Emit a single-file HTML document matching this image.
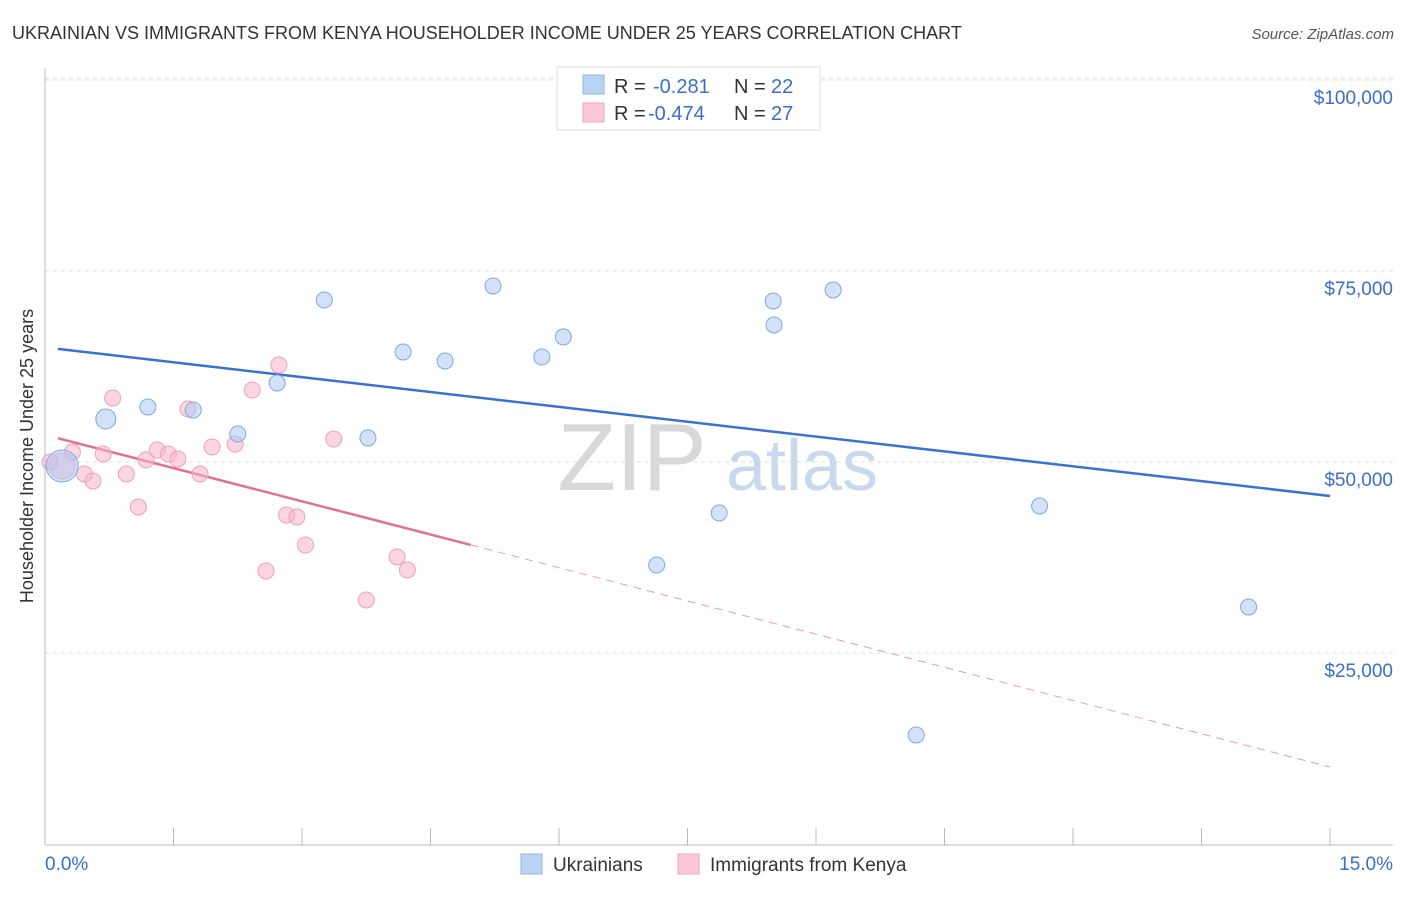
<!DOCTYPE html>
<html><head><meta charset="utf-8"><style>
body{margin:0;background:#fff;font-family:"Liberation Sans",sans-serif}
svg text{font-family:"Liberation Sans",sans-serif}
</style></head><body>
<svg id="chart" width="1406" height="892" xmlns="http://www.w3.org/2000/svg">
<text x="12" y="39" font-size="18" fill="#333">UKRAINIAN VS IMMIGRANTS FROM KENYA HOUSEHOLDER INCOME UNDER 25 YEARS CORRELATION CHART</text>
<text x="1394" y="39" font-size="15" fill="#555" text-anchor="end" font-style="italic">Source: ZipAtlas.com</text>
<g><text x="632" y="490" font-size="96" fill="#d8d8d8" text-anchor="middle" font-family="Liberation Serif,serif">ZIP</text><text x="802" y="490" font-size="72" fill="#c7d8ef" text-anchor="middle">atlas</text></g>
<g id="grid"></g><g id="axes"></g><g id="trends"></g><g id="points"></g>
<text transform="translate(33,456) rotate(-90)" font-size="18" fill="#333" text-anchor="middle">Householder Income Under 25 years</text>
<g>
<rect x="557" y="67" width="263" height="63" fill="#fff" stroke="#ddd"/>
<rect x="583" y="75" width="21" height="19" fill="#b9d3f5" stroke="#8fb4e8"/>
<rect x="583" y="103" width="21" height="19" fill="#fbc8d7" stroke="#f0a3ba"/>
<text x="614" y="93" font-size="20" fill="#333">R = </text><text x="653" y="93" font-size="20" fill="#3a6fc9">-0.281</text>
<text x="734" y="93" font-size="20" fill="#333">N = </text><text x="771" y="93" font-size="20" fill="#3a6fc9">22</text>
<text x="614" y="120" font-size="20" fill="#333">R = </text><text x="648" y="120" font-size="20" fill="#3a6fc9">-0.474</text>
<text x="734" y="120" font-size="20" fill="#333">N = </text><text x="771" y="120" font-size="20" fill="#3a6fc9">27</text>
</g>
<g>
<rect x="521" y="854" width="21" height="20" fill="#b9d3f5" stroke="#8fb4e8"/><text x="553" y="871" font-size="19" fill="#333">Ukrainians</text>
<rect x="678" y="854" width="21" height="20" fill="#fbc8d7" stroke="#f0a3ba"/><text x="710" y="871" font-size="19" fill="#333">Immigrants from Kenya</text>
</g>
</svg>
<script>
const yTicks=[25000,50000,75000,100000];
const yTickLabels=["$25,000","$50,000","$75,000","$100,000"];
const xTickLabels=["0.0%","15.0%"];
const blueX=[0.20,0.71,1.20,1.73,2.25,2.71,3.26,3.77,4.18,4.67,5.23,5.80,6.05,6.95,7.14,7.87,8.50,8.51,9.20,11.61,14.05,10.17];
const blueY=[49480,55630,57200,56810,53670,60340,71210,53150,64400,63220,73040,63750,66370,95030,36520,43330,71080,67940,72520,44240,31020,14270];
const pinkX=[0.20,0.06,0.32,0.46,0.56,0.68,0.79,0.95,1.09,1.18,1.31,1.44,1.55,1.67,1.81,1.95,2.22,2.42,2.58,2.73,2.82,2.94,3.04,3.37,3.75,4.11,4.23];
const pinkY=[49480,50000,51310,48430,47520,51050,58380,48430,44110,50270,51570,51050,50400,56940,48430,51970,52360,59430,35740,62700,43070,42800,39140,53010,31940,37570,35870];
const blueTrend=[64800,45550];
const pinkTrend=[53550,10080];
const pinkSolidEnd=4.97;
const NS="http://www.w3.org/2000/svg";
const xs=v=>45+v/15*1285, ys=v=>844-v*191/25000;
function mk(p,t,a){const e=document.createElementNS(NS,t);for(const k in a)e.setAttribute(k,a[k]);document.getElementById(p).appendChild(e);return e;}
yTicks.forEach((t,i)=>{
 const l=mk('grid','line',{x1:45,x2:1393,y1:ys(t),y2:ys(t),stroke:'#ddd','stroke-dasharray':'4,4'});
 
 
 const tx=mk('grid','text',{x:1393,y:ys(t)+24,'font-size':19,fill:'#3a6fc9','text-anchor':'end'});tx.textContent=yTickLabels[i];
 
 
});
mk('grid','line',{x1:45,x2:1393,y1:ys(100000)-2,y2:ys(100000)-2,stroke:'#ddd','stroke-dasharray':'4,4'});
mk('axes','line',{x1:45,x2:45,y1:68,y2:845,stroke:'#bbb'});
mk('axes','line',{x1:45,x2:1393,y1:845,y2:845,stroke:'#bbb'});
for(let i=0;i<=10;i++){mk('axes','line',{x1:xs(i*1.5),x2:xs(i*1.5),y1:828,y2:845,stroke:'#bbb'});}
const x0=mk('axes','text',{x:45,y:870,'font-size':19,fill:'#3a6fc9'});x0.textContent=xTickLabels[0];


const x1=mk('axes','text',{x:1393,y:870,'font-size':19,fill:'#3a6fc9','text-anchor':'end'});x1.textContent=xTickLabels[1];


const bt=mk('trends','line',{x1:xs(0.15),y1:ys(blueTrend[0]),x2:xs(15),y2:ys(blueTrend[1]),stroke:'#3a72d0','stroke-width':2.5});


const pm=v=>pinkTrend[0]+(pinkTrend[1]-pinkTrend[0])*v/15;
const pt=mk('trends','line',{x1:xs(0.15),y1:ys(pm(0.15)),x2:xs(pinkSolidEnd),y2:ys(pm(pinkSolidEnd)),stroke:'#e0709a','stroke-width':2.5});


const pd=mk('trends','line',{x1:xs(pinkSolidEnd),y1:ys(pm(pinkSolidEnd)),x2:xs(15),y2:ys(pm(15)),stroke:'#e89ab5','stroke-width':1,'stroke-dasharray':'8,6'});


pinkX.forEach((x,i)=>{const c=mk('points','circle',{cx:xs(x),cy:ys(pinkY[i]),r:i===0?13:8,fill:'rgba(248,180,202,0.55)',stroke:'#eea0ba','stroke-width':1});
 
 });
blueX.forEach((x,i)=>{const c=mk('points','circle',{cx:xs(x),cy:ys(blueY[i]),r:i===0?16:(i===1?10:8),fill:'rgba(175,203,242,0.55)',stroke:'#7fa8e0','stroke-width':1});
 
 });
</script>
</body></html>
